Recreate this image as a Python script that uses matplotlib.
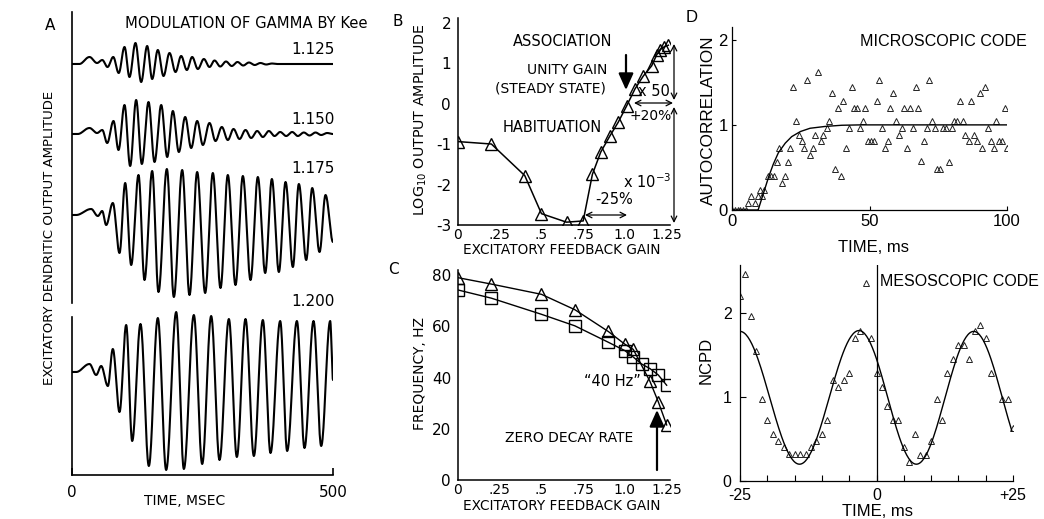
import numpy as np
import matplotlib
matplotlib.use("Agg")
import matplotlib.pyplot as plt

# ---------------- data ----------------
# Panel A: extrema of each simulated trace (time in ms, amplitude in px-like units)
t1 = [0, 14, 33.5, 48, 58, 68, 79, 89.5, 100.6, 110.1, 121.6, 132.5, 144, 153.6, 164.4, 175.3,
      186.8, 198.3, 209.1, 220, 230.2, 241.1, 252.6, 263.4, 273, 284, 295, 306, 317, 328, 339, 350,
      361, 372, 383, 394, 500]
a1 = [0, 0, 7, 1, 4, -3, 7, -9, 17, -13, 21, -18, 18, -15, 14, -12,
      11, -8, 8, -6, 7, -5, 5, -3, 3.5, -2.5, 2.5, -2, 2, -1.5, 1.5, -1,
      1, -0.5, 0.5, 0, 0]
t2 = [0, 11, 33.5, 48, 58, 67.4, 79.5, 89.1, 100.6, 111.4, 122.9, 133.8, 146.6, 158.1, 170.9, 182.4,
      193.2, 204.7, 216.8, 228.3, 239.8, 250.7, 263.4, 274.9, 287, 298.5, 309.4, 320.9, 332.4, 343.2,
      354.7, 365.6, 377.1, 388, 398.8, 410.3, 421.8, 432.6, 444.1, 455, 466.5, 477.3, 488.8, 500]
a2 = [0, 0, 6, 1, 4, -9, 13, -16, 29, -32, 34, -30, 32, -28, 29, -23,
      23, -18, 17, -14, 13, -11, 11, -7, 7, -6, 5, -5, 4, -4,
      3, -3, 3, -2, 2, -2, 2, -2, 1.5, -1.5, 1.5, -1, 1, 0]
t3 = [0, 8, 36.7, 49.5, 57.8, 65.5, 78.2, 91.0, 101.9, 113.4, 127.4, 138.9, 153.6, 165.7, 181.7, 195.1,
      211.1, 225.1, 239.8, 255.1, 269.8, 284.5, 298.5, 313.2, 327.3, 342.0, 356.0, 370.1, 382.9, 396.3,
      409.1, 423.1, 434.6, 448.7, 460.2, 474.2, 485.7, 500]
a3 = [0, 0, 6, -1, 4, -10, 12, -38, 32, -50, 40, -65, 44, -77, 46, -82,
      45, -80, 43, -78, 42, -73, 40, -70, 39, -65, 38, -58, 36, -57,
      33, -52, 31, -45, 27, -37, 20, -27]
t4 = [0, 8, 33.5, 46.3, 55.9, 68.7, 78.2, 91, 103.8, 115.3, 131.2, 147.2, 164.4, 180.4, 199.6, 214.3,
      233.4, 249.4, 266.6, 282.6, 300.5, 315.8, 332.4, 348.4, 365.6, 380.3, 398.8, 412.2, 430.8, 445.4,
      462.7, 477.4, 494.6, 500]
a4 = [0, 0, 8, -3, 6, -14, 23, -40, 47, -69, 48, -94, 54, -98, 60, -97,
      57, -92, 56, -88, 53, -85, 53, -84, 52, -81, 51, -79, 51, -76,
      51, -74, 51, -8]
trace_labels = ["1.125", "1.150", "1.175", "1.200"]

# Panel B: log10 output amplitude vs excitatory feedback gain
b_gain = [0, 0.2, 0.4, 0.5, 0.65, 0.75, 0.805, 0.855, 0.91, 0.96, 1.01, 1.06, 1.11, 1.16, 1.19,
          1.21, 1.235, 1.26]
b_log = [-0.94, -1.0, -1.78, -2.72, -2.93, -2.9, -1.75, -1.2, -0.8, -0.46, -0.06, 0.36, 0.68,
         0.93, 1.2, 1.33, 1.40, 1.44]

# Panel C: frequency vs gain
c_tri_gain = [0, 0.2, 0.5, 0.7, 0.9, 1.0, 1.05, 1.15, 1.2, 1.25]
c_tri_freq = [79, 76.5, 72.5, 66.5, 58, 53, 51, 38.5, 30.5, 21.5]
c_sq_gain = [0, 0.2, 0.5, 0.7, 0.9, 1.0, 1.05, 1.1, 1.15, 1.2, 1.25]
c_sq_freq = [74.2, 71, 64.7, 60.2, 53.8, 50.5, 48, 45.3, 43.5, 41, 37]

# Panel D top: autocorrelation
micro_t = [0, 1, 2, 3, 4, 5, 5.8, 7.0, 8.3, 9.5, 10.1, 10.9, 11.5, 13.1, 14.0, 15.2, 16.2, 17.0, 18.3,
           19.3, 20.2, 21.0, 22.2, 23.2, 24.4, 25.3, 26.2, 27.3, 28.3, 29.3, 30.3, 31.3, 32.3, 33.2,
           34.4, 35.4, 36.5, 37.4, 38.4, 39.5, 40.5, 41.4, 42.4, 43.5, 44.3, 45.3, 46.5, 47.5, 48.5,
           49.6, 50.5, 51.5, 52.6, 53.6, 54.6, 55.7, 56.6, 57.5, 58.7, 59.7, 60.6, 61.7, 62.7, 63.7,
           64.8, 65.7, 66.8, 67.8, 68.8, 69.9, 70.8, 71.8, 72.9, 73.9, 74.7, 75.7, 76.7, 77.8, 78.9,
           80.0, 80.9, 81.8, 83.0, 84.0, 84.9, 86.0, 87.0, 88.0, 89.0, 90.0, 91.0, 92.1, 93.1, 94.0,
           95.1, 96.1, 97.1, 98.2, 99.2, 100.0]
micro_v = [0, 0, 0, 0, 0, 0, 0.08, 0.17, 0.08, 0.17, 0.24, 0.17, 0.24, 0.40, 0.40, 0.40, 0.56, 0.73,
           0.32, 0.40, 0.56, 0.73, 1.45, 1.04, 0.88, 0.81, 0.73, 1.53, 0.65, 0.73, 0.88, 1.62, 0.81,
           0.88, 0.96, 1.04, 1.37, 0.48, 1.20, 0.40, 1.28, 0.73, 0.96, 1.45, 1.20, 1.20, 0.96, 1.04,
           1.20, 0.81, 0.81, 0.81, 1.28, 1.53, 0.96, 0.73, 0.81, 1.20, 1.37, 1.04, 0.88, 0.96, 1.20,
           0.73, 1.20, 0.96, 1.45, 1.20, 0.57, 0.81, 0.96, 1.53, 1.04, 0.96, 0.48, 0.48, 0.96, 0.96,
           0.56, 0.96, 1.04, 1.04, 1.28, 1.04, 0.88, 0.81, 1.28, 0.88, 0.81, 1.37, 0.73, 1.45, 0.96,
           0.81, 0.73, 1.04, 0.81, 0.81, 1.20, 0.73]
micro_fit_t = [0, 9.5, 11.3, 13.1, 14.9, 16.8, 19.2, 21.6, 24.7, 28.3, 33.2, 39.2, 45.3, 100]
micro_fit_v = [0, 0, 0.18, 0.37, 0.53, 0.67, 0.78, 0.86, 0.92, 0.96, 0.98, 0.995, 1.0, 1.0]

# Panel D bottom: NCPD
meso_t = [-25, -24, -23, -22, -21, -20, -19, -18, -17, -16, -15, -14, -13, -12, -11, -10, -9, -8, -7,
          -6, -5, -4, -3, -2, -1, 0, 1, 2, 3, 4, 5, 6, 7, 8, 9, 10, 11, 12, 13, 14, 15, 16, 17, 18,
          19, 20, 21, 23, 24, 25]
meso_v = [2.20, 2.46, 1.96, 1.55, 0.98, 0.73, 0.56, 0.48, 0.40, 0.32, 0.32, 0.32, 0.32, 0.40, 0.48,
          0.56, 0.73, 1.20, 1.12, 1.20, 1.29, 1.70, 1.78, 2.36, 1.70, 1.29, 1.12, 0.89, 0.73, 0.73,
          0.40, 0.23, 0.56, 0.31, 0.31, 0.48, 0.97, 0.73, 1.29, 1.45, 1.62, 1.62, 1.45, 1.79, 1.86,
          1.70, 1.29, 0.97, 0.97, 0.63]
meso_fit_t = [-25, -14.1, -3.2, 7.3, 17.8, 28.3]
meso_fit_v = [1.78, 0.2, 1.79, 0.2, 1.78, 0.2]

# ---------------- helpers ----------------
W, H = 1044, 519
fig = plt.figure(figsize=(W / 100, H / 100), dpi=100)
fig.patch.set_facecolor("white")

FA = "DejaVu Sans"
FD = "Liberation Sans"


def px_axes(l, t, r, b):
    return fig.add_axes([l / W, 1 - b / H, (r - l) / W, (b - t) / H])


def ptext(x, y, s, size=10, family=FA, ha="center", va="center", **kw):
    fig.text(x / W, 1 - y / H, s, fontsize=size, family=family, ha=ha, va=va, **kw)


def parrow(x1, y1, x2, y2, style="<->", lw=0.9):
    fig.add_artist(matplotlib.patches.FancyArrowPatch(
        (x1 / W, 1 - y1 / H), (x2 / W, 1 - y2 / H), transform=fig.transFigure,
        arrowstyle=style, mutation_scale=10, lw=lw, color="black",
        shrinkA=0, shrinkB=0))


def cos_curve(te, ve, n=20):
    """smooth curve passing through successive extrema with half-cosine segments"""
    xs, ys = [], []
    for i in range(len(te) - 1):
        s = np.linspace(0, 1, n, endpoint=False)
        xs.append(te[i] + (te[i + 1] - te[i]) * s)
        ys.append(ve[i] + (ve[i + 1] - ve[i]) * (1 - np.cos(np.pi * s)) / 2)
    xs.append([te[-1]])
    ys.append([ve[-1]])
    return np.concatenate(xs), np.concatenate(ys)


# ---------------- Panel A ----------------
axA = px_axes(72, 12, 333, 475)
axA.set_xlim(0, 500)
axA.set_ylim(0, 463)
baselines = [411, 341, 260, 103]
for te, ae, base in zip([t1, t2, t3, t4], [a1, a2, a3, a4], baselines):
    x, y = cos_curve(te, ae)
    axA.plot(x, base + y, color="black", lw=1.5, solid_capstyle="round")
for sp in ["top", "right", "left"]:
    axA.spines[sp].set_visible(False)
axA.spines["bottom"].set_linewidth(1.2)
axA.axvline(0, ymin=0, ymax=158 / 463, color="black", lw=1.2, clip_on=False)
axA.axvline(0, ymin=172 / 463, ymax=1, color="black", lw=1.2, clip_on=False)
axA.set_xticks([0, 500])
axA.set_xticklabels(["0", "500"], fontsize=11, family=FA)
axA.tick_params(axis="x", direction="in", length=5, width=1.2, pad=7)
axA.set_yticks([])
ptext(185, 501, "TIME, MSEC", size=10)
ptext(50, 238, "EXCITATORY DENDRITIC OUTPUT AMPLITUDE", size=9.5, rotation=90)
ptext(50, 26, "A", size=11)
ptext(125, 24, "MODULATION OF GAMMA BY Kee", size=10.6, ha="left")
for lab, yy in zip(trace_labels, [50, 120, 168, 301]):
    ptext(335, yy, lab, size=11, ha="right")

# ---------------- Panel B ----------------
axB = px_axes(458, 18.5, 670, 225)
axB.plot(b_gain, b_log, color="black", lw=1.1, marker="^", ms=8, mfc="none", mec="black", mew=1.0)
axB.set_xlim(0, 1.27)
axB.set_ylim(-3, 2.1)
axB.set_xticks([0, 0.25, 0.5, 0.75, 1.0, 1.25])
axB.set_xticklabels(["0", ".25", ".5", ".75", "1.0", "1.25"], fontsize=10, family=FA)
axB.set_yticks([-3, -2, -1, 0, 1, 2])
axB.set_yticklabels(["-3", "-2", "-1", "0", "1", "2"], fontsize=11, family=FA)
axB.tick_params(axis="y", length=0, pad=5)
axB.tick_params(axis="x", length=0, pad=2)
for sp in ["top", "right"]:
    axB.spines[sp].set_visible(False)
for sp in ["left", "bottom"]:
    axB.spines[sp].set_linewidth(1.1)
ptext(398, 21, "B", size=11)
ptext(421, 120, r"LOG$_{\mathregular{10}}$ OUTPUT AMPLITUDE", size=10.3, rotation=90)
ptext(562, 250, "EXCITATORY FEEDBACK GAIN", size=9.8)
ptext(563, 41, "ASSOCIATION", size=10.5)
ptext(567, 70, "UNITY GAIN", size=10)
ptext(550, 88, "(STEADY STATE)", size=10)
ptext(552, 128, "HABITUATION", size=10.5)
parrow(626, 55, 626, 90, style="-|>,head_length=1.0,head_width=0.45", lw=1.6)
ptext(638, 91, "x 50", size=10.5, ha="left")
parrow(634, 103, 673, 103)
ptext(651, 116, "+20%", size=10)
parrow(674, 44, 674, 100)
parrow(674, 107, 674, 223)
ptext(623, 182, r"x 10$^{\mathregular{-3}}$", size=10.5, ha="left")
ptext(614, 200, "-25%", size=10.5)
parrow(585, 215, 627, 215)

# ---------------- Panel C ----------------
axC = px_axes(458, 270, 670, 480)
axC.plot(c_tri_gain, c_tri_freq, color="black", lw=1.0, marker="^", ms=8, mfc="none", mec="black",
         mew=1.0)
axC.plot(c_sq_gain, c_sq_freq, color="black", lw=1.0, marker="s", ms=8, mfc="none", mec="black",
         mew=1.0)
axC.set_xlim(0, 1.27)
axC.set_ylim(0, 82)
axC.set_xticks([0, 0.25, 0.5, 0.75, 1.0, 1.25])
axC.set_xticklabels(["0", ".25", ".5", ".75", "1.0", "1.25"], fontsize=10, family=FA)
axC.set_yticks([0, 20, 40, 60, 80])
axC.set_yticklabels(["0", "20", "40", "60", "80"], fontsize=11, family=FA)
axC.tick_params(axis="y", length=0, pad=5)
axC.tick_params(axis="x", length=0, pad=2)
for sp in ["top", "right"]:
    axC.spines[sp].set_visible(False)
for sp in ["left", "bottom"]:
    axC.spines[sp].set_linewidth(1.1)
ptext(393, 270, "C", size=11)
ptext(420, 373, "FREQUENCY, HZ", size=10, rotation=90)
ptext(562, 506, "EXCITATORY FEEDBACK GAIN", size=9.8)
ptext(612, 382, "\u201c40 Hz\u201d", size=10.5)
ptext(569, 438, "ZERO DECAY RATE", size=10)
parrow(657, 470, 657, 410, style="-|>,head_length=1.0,head_width=0.45", lw=1.6)

# ---------------- Panel D top ----------------
axD1 = px_axes(732, 27, 1007, 210)
axD1.plot(micro_t, micro_v, linestyle="none", marker="^", ms=3.8, mfc="none", mec="#222222",
          mew=0.7)
ft = np.linspace(0, 100, 600)
axD1.plot(ft, np.interp(ft, micro_fit_t, micro_fit_v), color="black", lw=1.0)
axD1.set_xlim(0, 100)
axD1.set_ylim(0, 2.15)
axD1.set_xticks([0, 50, 100])
axD1.set_xticklabels(["0", "50", "100"], fontsize=12, family=FD)
axD1.set_yticks([0, 1, 2])
axD1.set_yticklabels(["0", "1", "2"], fontsize=12, family=FD)
axD1.tick_params(direction="in", length=3, width=0.8, pad=3)
for sp in ["top", "right"]:
    axD1.spines[sp].set_visible(False)
for sp in ["left", "bottom"]:
    axD1.spines[sp].set_linewidth(0.9)
ptext(692, 18, "D", size=12, family=FD)
ptext(708, 120, "AUTOCORRELATION", size=12.3, family=FD, rotation=90)
ptext(860, 42, "MICROSCOPIC CODE", size=11.6, family=FD, ha="left")
ptext(873, 247, "TIME, ms", size=12, family=FD)

# ---------------- Panel D bottom ----------------
axD2 = px_axes(740, 265, 1013, 481)
axD2.plot(meso_t, meso_v, linestyle="none", marker="^", ms=3.8, mfc="none", mec="#222222", mew=0.7)
fx, fy = cos_curve(meso_fit_t, meso_fit_v, n=60)
keep = fx <= 24.8
axD2.plot(fx[keep], fy[keep], color="black", lw=1.0)
axD2.axvline(0, color="black", lw=0.9)
axD2.set_xlim(-25, 25)
axD2.set_ylim(0, 2.57)
axD2.set_xticks(np.arange(-25, 26, 5))
axD2.set_xticklabels(["-25"] + [""] * 4 + ["0"] + [""] * 4 + ["+25"], fontsize=11.5, family=FD)
axD2.set_yticks([0, 1, 2])
axD2.set_yticklabels(["0", "1", "2"], fontsize=11.5, family=FD)
axD2.tick_params(axis="x", direction="in", length=4, width=0.8, pad=5)
axD2.tick_params(axis="y", direction="in", length=4, width=0.8, pad=6)
for sp in ["top", "right"]:
    axD2.spines[sp].set_visible(False)
for sp in ["left", "bottom"]:
    axD2.spines[sp].set_linewidth(0.9)
ptext(706, 360, "NCPD", size=12, family=FD, rotation=90)
ptext(880, 282, "MESOSCOPIC CODE", size=11.5, family=FD, ha="left")
ptext(877, 512, "TIME, ms", size=12, family=FD)

fig.savefig("out.png", dpi=100, facecolor="white")
